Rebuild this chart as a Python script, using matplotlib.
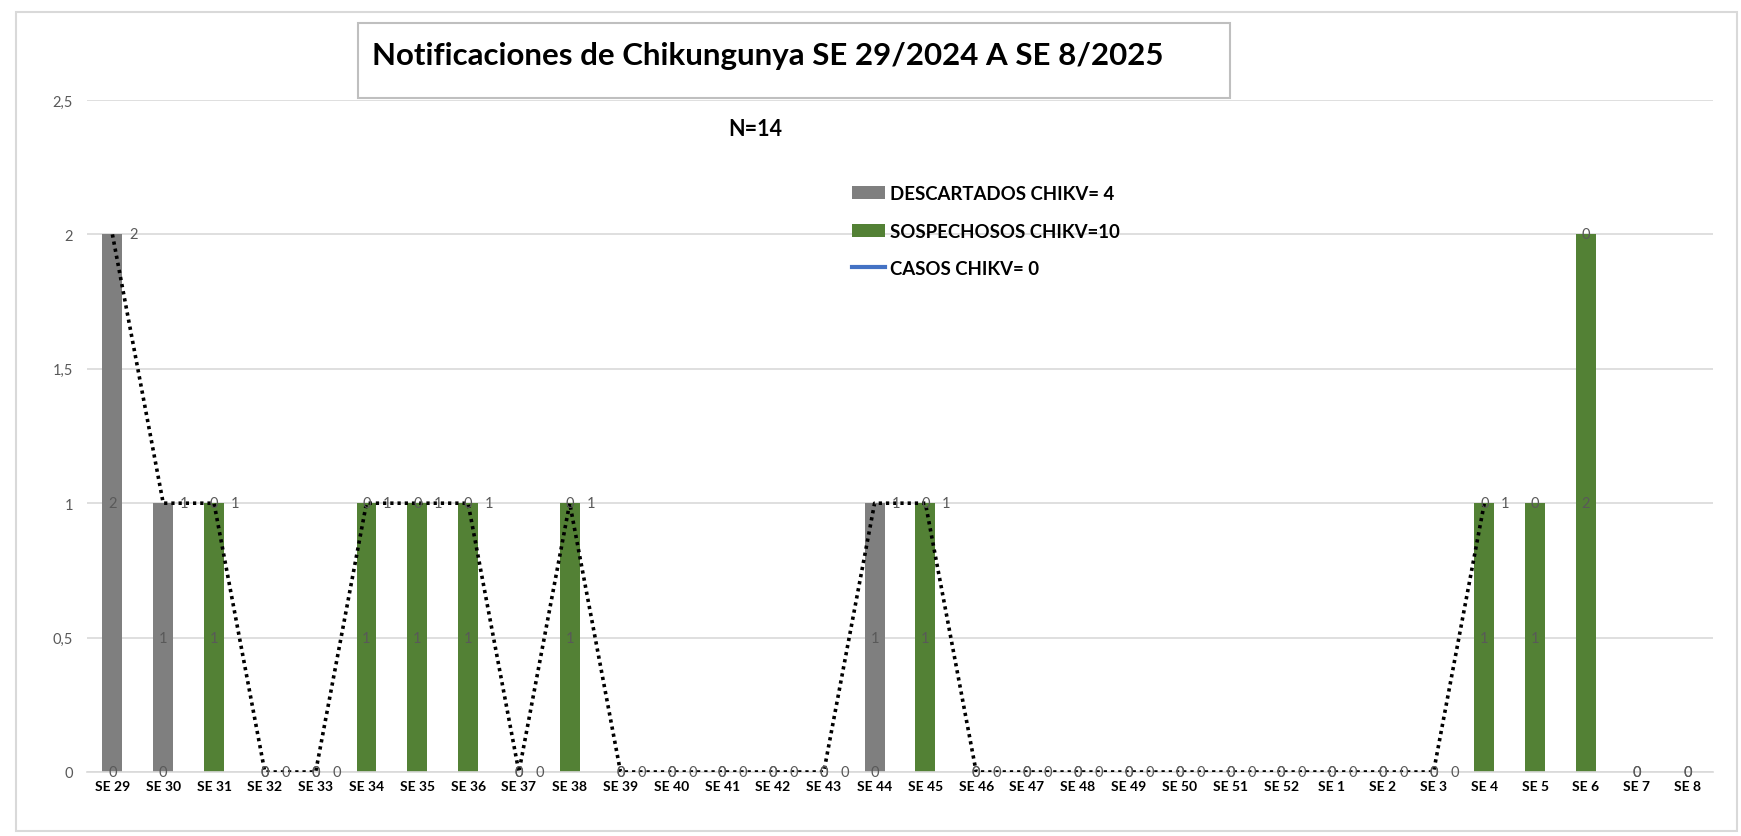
import numpy as np
import matplotlib
matplotlib.use("Agg")
import matplotlib.pyplot as plt
from matplotlib.patches import Rectangle, Patch
from matplotlib.lines import Line2D

categories = ["SE 29", "SE 30", "SE 31", "SE 32", "SE 33", "SE 34", "SE 35", "SE 36",
              "SE 37", "SE 38", "SE 39", "SE 40", "SE 41", "SE 42", "SE 43", "SE 44",
              "SE 45", "SE 46", "SE 47", "SE 48", "SE 49", "SE 50", "SE 51", "SE 52",
              "SE 1", "SE 2", "SE 3", "SE 4", "SE 5", "SE 6", "SE 7", "SE 8"]
sospechosos = [0, 0, 1, 0, 0, 1, 1, 1, 0, 1, 0, 0, 0, 0, 0, 0,
               1, 0, 0, 0, 0, 0, 0, 0, 0, 0, 0, 1, 1, 2, 0, 0]
descartados = [2, 1, 0, 0, 0, 0, 0, 0, 0, 0, 0, 0, 0, 0, 0, 1,
               0, 0, 0, 0, 0, 0, 0, 0, 0, 0, 0, 0, 0, 0, 0, 0]
casos = [0] * 32
total = [2, 1, 1, 0, 0, 1, 1, 1, 0, 1, 0, 0, 0, 0, 0, 1,
         1, 0, 0, 0, 0, 0, 0, 0, 0, 0, 0, 1, None, None, None, None]
yticks = [0, 0.5, 1, 1.5, 2, 2.5]
ytick_labels = ["0", "0,5", "1", "1,5", "2", "2,5"]

GRAY = "#7f7f7f"
GREEN = "#538135"
LBL = "#595959"
FONT = ["Lato", "DejaVu Sans"]
plt.rcParams["font.family"] = FONT

W, H = 1741, 837
fig = plt.figure(figsize=(W / 100, H / 100), dpi=100)

def fx(px):
    return px / W

def fy(py):
    return 1 - py / H

# outer frame
fig.patches.append(Rectangle((fx(16), fy(832)), fx(1737) - fx(16), fy(13) - fy(832),
                             transform=fig.transFigure, fill=False, edgecolor="#d9d9d9", lw=1.5))

ax = fig.add_axes([fx(87), fy(773), fx(1713) - fx(87), fy(101) - fy(773)])
x = np.arange(len(categories))
bw = 0.39
sos = np.array(sospechosos, dtype=float)
des = np.array(descartados, dtype=float)
ax.bar(x, sos, bw, color=GREEN, zorder=2)
ax.bar(x, des, bw, bottom=sos, color=GRAY, zorder=2)
ax.plot(x, casos, color="#4472c4", lw=0, zorder=1)
tot = np.array([np.nan if v is None else v for v in total], dtype=float)
ax.plot(x, tot, color="black", lw=2.6, linestyle=(0, (0.9, 1.1)), zorder=3)

ax.set_xlim(-0.5, len(categories) - 0.5)
ax.set_ylim(0, 2.5)
ax.set_yticks(yticks)
ax.set_yticklabels(ytick_labels)
ax.set_xticks(x)
ax.set_xticklabels(categories, fontweight="bold", fontsize=10, color="black")
ax.tick_params(axis="both", length=0)
ax.tick_params(axis="y", labelsize=10.5, labelcolor=LBL, pad=10)
ax.tick_params(axis="x", pad=6)
ax.grid(axis="y", color="#d9d9d9", lw=1.2, zorder=0)
ax.set_axisbelow(True)
for s in ["top", "right", "left"]:
    ax.spines[s].set_visible(False)
ax.spines["bottom"].set_color("#d9d9d9")
ax.spines["bottom"].set_linewidth(1.2)

# data labels
for i in x:
    ax.text(i, sos[i] / 2, f"{int(sos[i])}", ha="center", va="center", fontsize=10.5, color=LBL, zorder=4)
    ax.text(i, sos[i] + des[i] / 2, f"{int(des[i])}", ha="center", va="center", fontsize=10.5, color=LBL, zorder=4)
    if not np.isnan(tot[i]):
        ax.annotate(f"{int(tot[i])}", (i, tot[i]), xytext=(21, 0), textcoords="offset pixels",
                    ha="center", va="center", fontsize=10.5, color=LBL, zorder=4)

# title box
fig.patches.append(Rectangle((fx(358), fy(99)), fx(1230) - fx(358), fy(24) - fy(99),
                             transform=fig.transFigure, facecolor="white", edgecolor="#bfbfbf", lw=1.5, zorder=5))
fig.text(fx(372), fy(56), "Notificaciones de Chikungunya SE 29/2024 A SE 8/2025", ha="left", va="center",
         fontsize=22.5, fontweight="bold", color="black", zorder=6)
fig.text(fx(755), fy(130), "N=14", ha="center", va="center", fontsize=15.5, fontweight="bold", color="black")

handles = [Patch(facecolor=GRAY), Patch(facecolor=GREEN), Line2D([0], [0], color="#4472c4", lw=3)]
labels = ["DESCARTADOS CHIKV= 4", "SOSPECHOSOS CHIKV=10", "CASOS CHIKV= 0"]
fig.legend(handles, labels, loc="upper left", bbox_to_anchor=(fx(845), fy(179)), frameon=False,
           prop={"weight": "bold", "size": 13.4, "family": FONT}, handlelength=1.75, handleheight=0.7,
           handletextpad=0.25, labelspacing=1.08, borderaxespad=0)

fig.savefig("out.png", dpi=100, facecolor="white")
